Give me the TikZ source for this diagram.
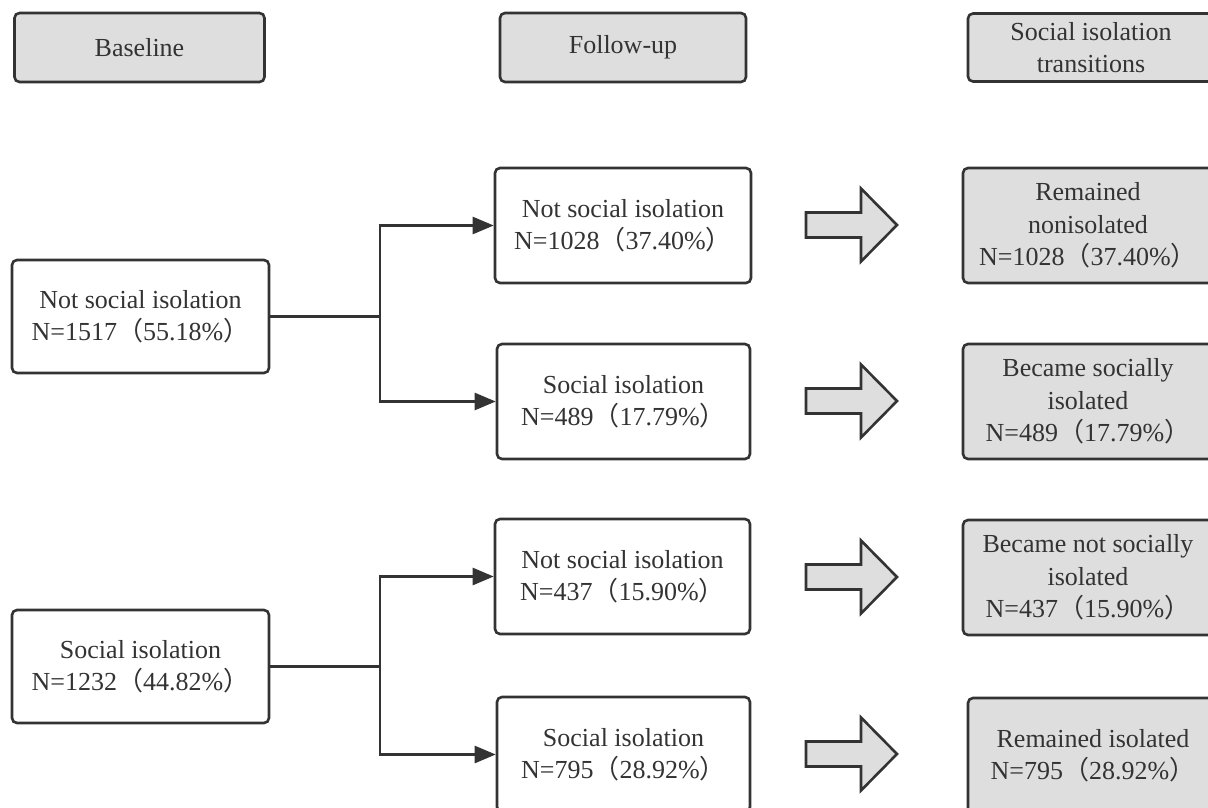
\documentclass[tikz,border=0pt]{standalone}
\usepackage{fontspec}
\setmainfont{Liberation Serif}
\newfontfamily\cjkfont{Noto Sans CJK SC}
\newcommand\fwl{{\cjkfont （}}
\newcommand\fwr{{\cjkfont ）}}
\usetikzlibrary{arrows.meta}
\definecolor{ink}{HTML}{333333}
\definecolor{boxgray}{HTML}{DEDEDE}
\tikzset{
  base/.style={draw=ink, line width=2.6pt, rounded corners=5pt, align=center,
    text=ink, font=\fontsize{26}{32.5}\selectfont, inner sep=0pt},
  whitebox/.style={base, fill=white},
  graybox/.style={base, fill=boxgray},
  conn/.style={draw=ink, line width=2.6pt, -{Triangle[length=21pt,width=17pt]}},
  blockarrow/.style={draw=ink, fill=boxgray, line width=2.6pt, line join=miter},
}
\begin{document}
\begin{tikzpicture}[x=1pt,y=-1pt]
\useasboundingbox (0,0) rectangle (1208,808);
\clip (0,0) rectangle (1208,808);
\fill[white] (0,0) rectangle (1208,808);
% headers
\node[graybox, minimum width=250pt, minimum height=69pt] (hb) at (139.5,47.5) {Baseline};
\node[graybox, minimum width=246pt, minimum height=69pt] (hf) at (623,47.5) {Follow-up};
\node[graybox, minimum width=246pt, minimum height=68pt] (ht) at (1091,47.5) {Social isolation\\transitions};
% baseline
\node[whitebox, minimum width=257pt, minimum height=113pt] (b1) at (140.5,316.5) {Not social isolation\\N=1517\fwl 55.18\%\fwr};
\node[whitebox, minimum width=257pt, minimum height=113pt] (b2) at (140.5,666.5) {Social isolation\\N=1232\fwl 44.82\%\fwr};
% follow-up
\node[whitebox, minimum width=256pt, minimum height=115pt] (f1) at (623,225.5) {Not social isolation\\N=1028\fwl 37.40\%\fwr};
\node[whitebox, minimum width=253pt, minimum height=115pt] (f2) at (623.5,401.5) {Social isolation\\N=489\fwl 17.79\%\fwr};
\node[whitebox, minimum width=255pt, minimum height=115pt] (f3) at (622.5,576.5) {Not social isolation\\N=437\fwl 15.90\%\fwr};
\node[whitebox, minimum width=253pt, minimum height=115pt] (f4) at (623.5,754.5) {Social isolation\\N=795\fwl 28.92\%\fwr};
% transitions
\node[graybox, minimum width=250pt, minimum height=115pt] (t1) at (1088,225.5) {Remained\\nonisolated\\N=1028\fwl 37.40\%\fwr};
\node[graybox, minimum width=250pt, minimum height=115pt] (t2) at (1088,401.5) {Became socially\\isolated\\N=489\fwl 17.79\%\fwr};
\node[graybox, minimum width=250pt, minimum height=115pt] (t3) at (1088,577.5) {Became not socially\\isolated\\N=437\fwl 15.90\%\fwr};
\node[graybox, minimum width=250pt, minimum height=115pt] (t4) at (1093,755.5) {Remained isolated\\N=795\fwl 28.92\%\fwr};
% connectors
\coordinate (j1) at (380,316.5);
\coordinate (j2) at (380,666.5);
\draw[draw=ink, line width=2.6pt] (b1.east) -- (j1);
\draw[draw=ink, line width=2.6pt] (b2.east) -- (j2);
\draw[conn] (j1) |- (f1.west);
\draw[conn] (j1) |- (f2.west);
\draw[conn] (j2) |- (f3.west);
\draw[conn] (j2) |- (f4.west);
% block arrows
\foreach \yy in {225,401,577,754}{
  \draw[blockarrow] (806,\yy-12.5) -- (861,\yy-12.5) -- (861,\yy-36.5) -- (897,\yy)
    -- (861,\yy+36.5) -- (861,\yy+12.5) -- (806,\yy+12.5) -- cycle;
}
\end{tikzpicture}
\end{document}
